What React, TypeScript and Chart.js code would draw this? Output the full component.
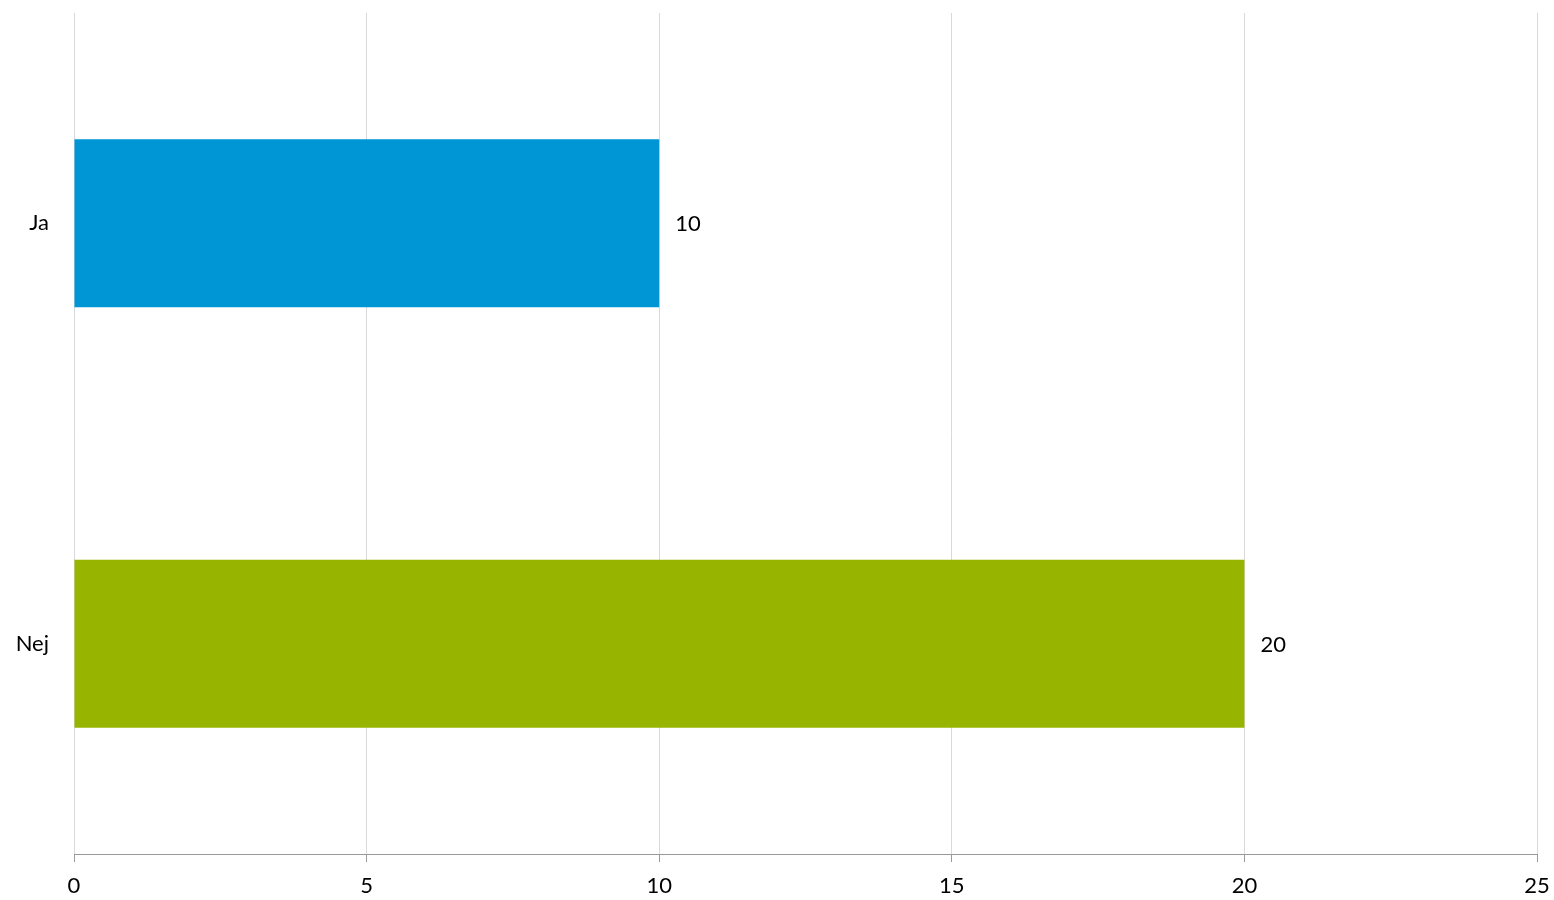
import React, { useEffect, useRef } from "react";
import { Chart, registerables } from "chart.js";

Chart.register(...registerables);

const categories = ["Ja", "Nej"];
const values = [10, 20];
const barColors = ["#0096D6", "#97B500"];
const xTicks = [0, 5, 10, 15, 20, 25];

const FONT = "'Lato', 'Open Sans', sans-serif";

const valueLabels = {
  id: "valueLabels",
  afterDatasetsDraw(chart: any) {
    const ctx = chart.ctx;
    const meta = chart.getDatasetMeta(0);
    ctx.save();
    ctx.font = `22px ${FONT}`;
    ctx.fillStyle = "#000";
    ctx.textAlign = "left";
    ctx.textBaseline = "middle";
    meta.data.forEach((el: any, i: number) => {
      ctx.fillText(String(values[i]), el.x + 16, el.y + 1);
    });
    ctx.restore();
  },
};

export default function App() {
  const ref = useRef<HTMLCanvasElement>(null);
  useEffect(() => {
    document.body.style.margin = "0";
    const chart = new Chart(ref.current!, {
      type: "bar",
      data: {
        labels: categories,
        datasets: [
          {
            data: values,
            backgroundColor: barColors,
            barPercentage: 0.4,
            categoryPercentage: 1,
          },
        ],
      },
      plugins: [valueLabels],
      options: {
        indexAxis: "y",
        animation: false,
        responsive: true,
        maintainAspectRatio: false,
        layout: { padding: { top: 13, right: 17, left: 0, bottom: 0 } },
        plugins: { legend: { display: false }, tooltip: { enabled: false } },
        scales: {
          x: {
            min: 0,
            max: 25,
            afterBuildTicks: (s: any) => {
              s.ticks = xTicks.map((v) => ({ value: v }));
            },
            afterFit: (s: any) => {
              s.height = 46;
              s.paddingLeft = 0;
              s.paddingRight = 0;
            },
            grid: {
              color: "#d9d9d9",
              tickColor: "#9a9a9a",
              tickLength: 8,
              lineWidth: 1,
            },
            border: { display: true, color: "#9a9a9a", width: 1 },
            ticks: {
              color: "#000",
              font: { family: FONT, size: 22 },
              padding: 11,
            },
          },
          y: {
            afterFit: (s: any) => {
              s.width = 74;
              s.paddingTop = 0;
              s.paddingBottom = 0;
            },
            grid: { display: false, drawTicks: false },
            border: { display: false },
            ticks: {
              color: "#000",
              font: { family: FONT, size: 22 },
              padding: 25,
            },
          },
        },
      },
    });
    return () => chart.destroy();
  }, []);
  return (
    <div style={{ width: 1554, height: 900, position: "relative" }}>
      <canvas ref={ref} />
    </div>
  );
}
